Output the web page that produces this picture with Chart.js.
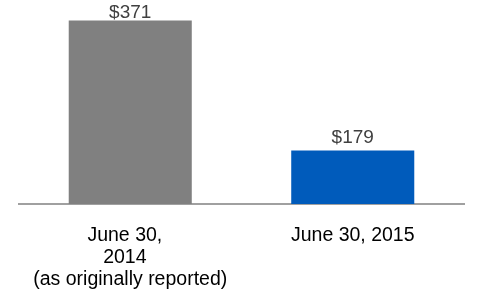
<!DOCTYPE html>
<html>
<head>
<meta charset="utf-8">
<script src="https://cdn.jsdelivr.net/npm/chart.js@4"></script>
<style>
html,body{margin:0;padding:0;background:#fff;}
#wrap{width:500px;height:300px;position:relative;}
</style>
</head>
<body>
<div id="wrap"><canvas id="c" width="500" height="300"></canvas></div>
<script>
const categories = [["June 30,  ", "2014  ", "(as originally reported)"], "June 30, 2015"];
const values = [371, 179];
const valueLabels = ["$371", "$179"];
const barColors = ["#808080", "#005BBB"];

const valueLabelPlugin = {
  id: 'valueLabels',
  afterDatasetsDraw(chart) {
    const ctx = chart.ctx;
    const meta = chart.getDatasetMeta(0);
    ctx.save();
    ctx.font = '19px "Liberation Sans", Arial, sans-serif';
    ctx.fillStyle = '#404040';
    ctx.textAlign = 'center';
    ctx.textBaseline = 'alphabetic';
    meta.data.forEach((bar, i) => {
      const y = Math.max(bar.y - 8, 18);
      ctx.fillText(valueLabels[i], bar.x, y);
    });
    ctx.restore();
  }
};

new Chart(document.getElementById('c'), {
  type: 'bar',
  data: {
    labels: categories,
    datasets: [{
      data: values,
      backgroundColor: barColors,
      borderWidth: 0,
      categoryPercentage: 1,
      barPercentage: 0.553
    }]
  },
  options: {
    responsive: false,
    animation: false,
    devicePixelRatio: 1,
    layout: { padding: { left: 19, right: 36, top: 1, bottom: 0 } },
    plugins: { legend: { display: false }, tooltip: { enabled: false } },
    scales: {
      y: { display: false, min: 100, max: 400 },
      x: {
        grid: { display: false, drawTicks: false },
        border: { display: true, color: '#a0a0a0', width: 2 },
        ticks: {
          color: '#000',
          font: { family: '"Liberation Sans", Arial, sans-serif', size: 19.5, lineHeight: 1.15 },
          padding: 20,
          maxRotation: 0,
          autoSkip: false
        },
        afterFit(scale) { scale.height = 96; }
      }
    }
  },
  plugins: [valueLabelPlugin]
});
</script>
</body>
</html>
